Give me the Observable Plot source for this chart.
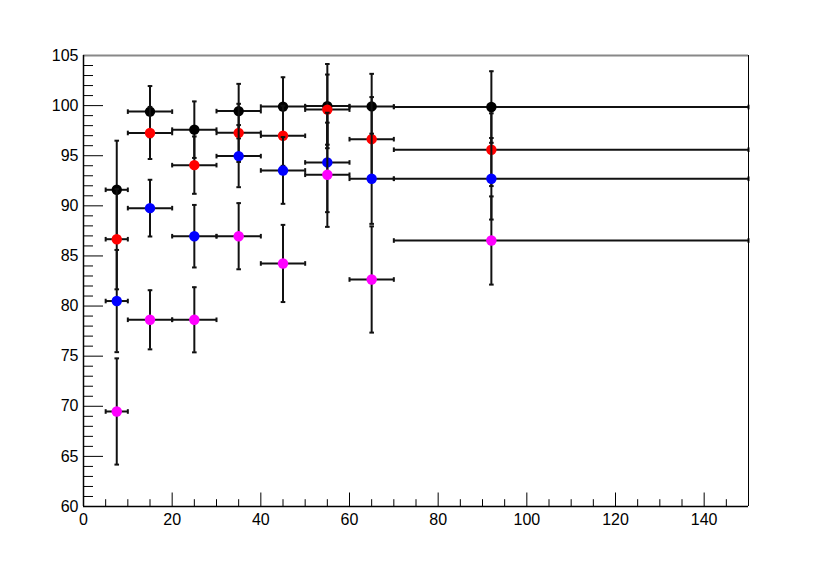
<!DOCTYPE html>
<html><head><meta charset="utf-8">
<script src="https://cdn.jsdelivr.net/npm/d3@7"></script>
<script src="https://cdn.jsdelivr.net/npm/@observablehq/plot@0.6"></script>
<style>body{margin:0;background:#fff}</style>
</head><body><div id="chart"></div>
<script>
// bin centres / edges (x)
const xVals = [7.5, 15, 25, 35, 45, 55, 65, 92];
const xLo   = [5, 10, 20, 30, 40, 50, 60, 70];
const xHi   = [10, 20, 30, 40, 50, 60, 70, 150];

// series values and symmetric y errors
const blackVals   = [91.6, 99.4, 97.6, 99.45, 99.9, 99.95, 99.92, 99.86];
const blackErr    = [4.9, 2.55, 2.82, 2.72, 2.93, 4.2, 3.25, 3.57];
const redVals     = [86.67, 97.27, 94.06, 97.28, 96.99, 99.6, 96.65, 95.6];
const redErr      = [5.0, 2.6, 2.86, 2.9, 3.0, 3.5, 4.2, 3.63];
const blueVals    = [80.5, 89.77, 86.97, 94.96, 93.53, 94.33, 92.7, 92.7];
const blueErr     = [5.1, 2.83, 3.12, 3.1, 3.33, 4.96, 4.5, 4.07];
const magentaVals = [69.48, 78.63, 78.63, 86.97, 84.25, 93.1, 82.65, 86.54];
const magentaErr  = [5.3, 2.95, 3.25, 3.3, 3.85, 5.2, 5.3, 4.4];

const seriesNames  = ["black", "red", "blue", "magenta"];
const seriesColors = ["#000000", "#ff0000", "#0000ff", "#ff00ff"];
const seriesValues = [blackVals, redVals, blueVals, magentaVals];
const seriesErrors = [blackErr, redErr, blueErr, magentaErr];

// axis ticks
const xMajor = [0, 20, 40, 60, 80, 100, 120, 140];
const xMinor = d3.range(0, 150, 5).filter(v => v % 20 !== 0);
const yMajor = [60, 65, 70, 75, 80, 85, 90, 95, 100, 105];
const yMinor = d3.range(60, 105, 1).filter(v => v % 5 !== 0);

const hcap = {draw(ctx, size) {const r = Math.sqrt(size / Math.PI); ctx.moveTo(-r, 0); ctx.lineTo(r, 0);}};
const vcap = {draw(ctx, size) {const r = Math.sqrt(size / Math.PI); ctx.moveTo(0, -r); ctx.lineTo(0, r);}};

const barColor = "#111";
const seriesMarks = [];
seriesNames.forEach((name, si) => {
  const rows = xVals.map((x, i) => ({x, lo: xLo[i], hi: xHi[i], y: seriesValues[si][i], e: seriesErrors[si][i]}));
  seriesMarks.push(
    Plot.ruleX(rows, {x: "x", y1: d => d.y - d.e, y2: d => d.y + d.e, stroke: barColor, strokeWidth: 2}),
    Plot.ruleY(rows, {y: "y", x1: "lo", x2: "hi", stroke: barColor, strokeWidth: 2}),
    Plot.dot(rows, {x: "x", y: d => d.y + d.e, symbol: hcap, r: 2.3, stroke: barColor, strokeWidth: 2}),
    Plot.dot(rows, {x: "x", y: d => d.y - d.e, symbol: hcap, r: 2.3, stroke: barColor, strokeWidth: 2}),
    Plot.dot(rows, {x: "lo", y: "y", symbol: vcap, r: 2.3, stroke: barColor, strokeWidth: 2}),
    Plot.dot(rows, {x: "hi", y: "y", symbol: vcap, r: 2.3, stroke: barColor, strokeWidth: 2}),
    Plot.dot(rows, {x: "x", y: "y", r: 5.2, fill: seriesColors[si], stroke: "none"})
  );
});

const chart = Plot.plot({
  width: 830,
  height: 563,
  marginLeft: 83,
  marginRight: 82,
  marginTop: 55,
  marginBottom: 57,
  style: {fontFamily: "'Liberation Sans', Arial, sans-serif", fontSize: "16px", color: "#000", background: "#fff"},
  x: {domain: [0, 150]},
  y: {domain: [60, 105]},
  marks: [
    Plot.axisX(xMajor, {tickSize: -13.5, tickPadding: 20.5, label: null, stroke: "#000"}),
    Plot.axisX(xMinor, {tickSize: -6.8, tickFormat: () => "", label: null, stroke: "#000"}),
    Plot.axisY(yMajor, {tickSize: -20, tickPadding: 25, label: null, stroke: "#000"}),
    Plot.axisY(yMinor, {tickSize: -10, tickFormat: () => "", label: null, stroke: "#000"}),
    ...seriesMarks,
    Plot.ruleY([105], {stroke: "#888", strokeWidth: 2}),
    Plot.ruleX([150], {stroke: "#000", strokeWidth: 1}),
    Plot.ruleX([0], {stroke: "#000", strokeWidth: 1.5}),
    Plot.ruleY([60], {stroke: "#000", strokeWidth: 1.5})
  ]
});
document.getElementById("chart").appendChild(chart);
</script>
</body></html>
